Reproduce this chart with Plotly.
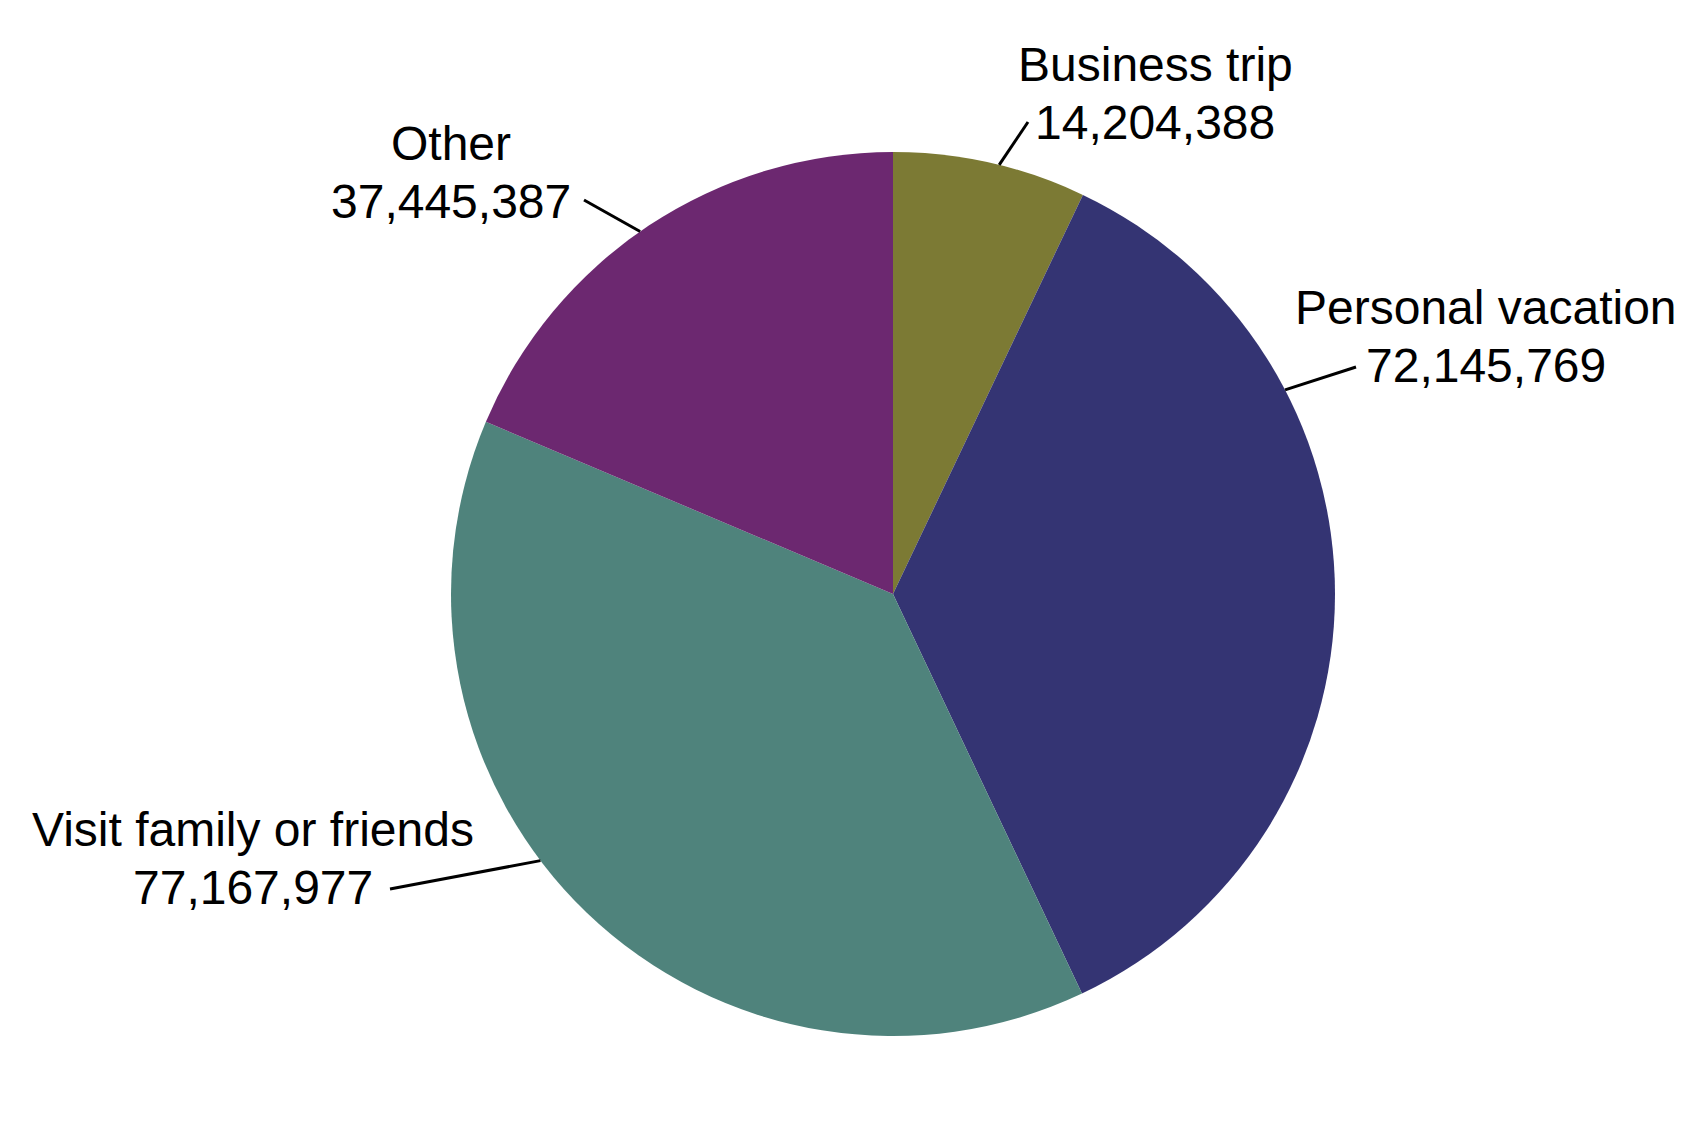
import math
import plotly.graph_objects as go

W, H = 1700, 1129

# Trip purposes, clockwise from 12 o'clock
PURPOSES = ["Business trip", "Personal vacation", "Visit family or friends", "Other"]
TRIPS = [14204388, 72145769, 77167977, 37445387]
COLORS = ["#7C7A34", "#343473", "#4F837C", "#6C2870"]

# pie placement (pixels)
CX, CY, R = 885, 586, 442

# label layout: text centre (px), leader angle on pie edge (deg clockwise from top), leader end (px)
LABEL_POS = [(1147, 86), (1478, 328), (245, 850), (443, 164)]
LEADER_ANGLE = [13.9, 62.5, 232.9, -34.9]
LEADER_END = [(1020, 114), (1348, 359), (382, 881), (576, 192)]
LINE_GAP = 58  # px between the two text lines

FONT = dict(family="Liberation Sans, Arial, sans-serif", size=48, color="black")


def px_to_paper(x, y):
    return x / W, 1 - y / H


def main() -> None:
    fig = go.Figure(go.Pie(
        labels=PURPOSES,
        values=TRIPS,
        sort=False,
        direction="clockwise",
        rotation=0,
        marker=dict(colors=COLORS, line=dict(width=0)),
        textinfo="none",
        hoverinfo="label+value",
        showlegend=False,
        domain=dict(
            x=[(CX - R) / W, (CX + R) / W],
            y=[1 - (CY + R) / H, 1 - (CY - R) / H],
        ),
    ))

    for name, val, pos, ang, end in zip(PURPOSES, TRIPS, LABEL_POS, LEADER_ANGLE, LEADER_END):
        # two lines: category name above, value below
        for line_text, dy in ((name, -LINE_GAP / 2), (f"{val:,}", LINE_GAP / 2)):
            tx, ty = px_to_paper(pos[0], pos[1] + dy)
            fig.add_annotation(
                x=tx, y=ty, xref="paper", yref="paper",
                text=line_text,
                showarrow=False,
                xanchor="center", yanchor="middle",
                font=FONT,
            )
        # leader line from pie edge to label
        ex = CX + R * math.sin(math.radians(ang))
        ey = CY - R * math.cos(math.radians(ang))
        x0, y0 = px_to_paper(ex, ey)
        x1, y1 = px_to_paper(*end)
        fig.add_shape(
            type="line", xref="paper", yref="paper",
            x0=x0, y0=y0, x1=x1, y1=y1,
            line=dict(color="black", width=3),
        )

    fig.update_layout(
        width=W, height=H,
        margin=dict(l=0, r=0, t=0, b=0),
        paper_bgcolor="white",
        plot_bgcolor="white",
    )
    fig.write_html("out.html")


if __name__ == "__main__":
    main()
